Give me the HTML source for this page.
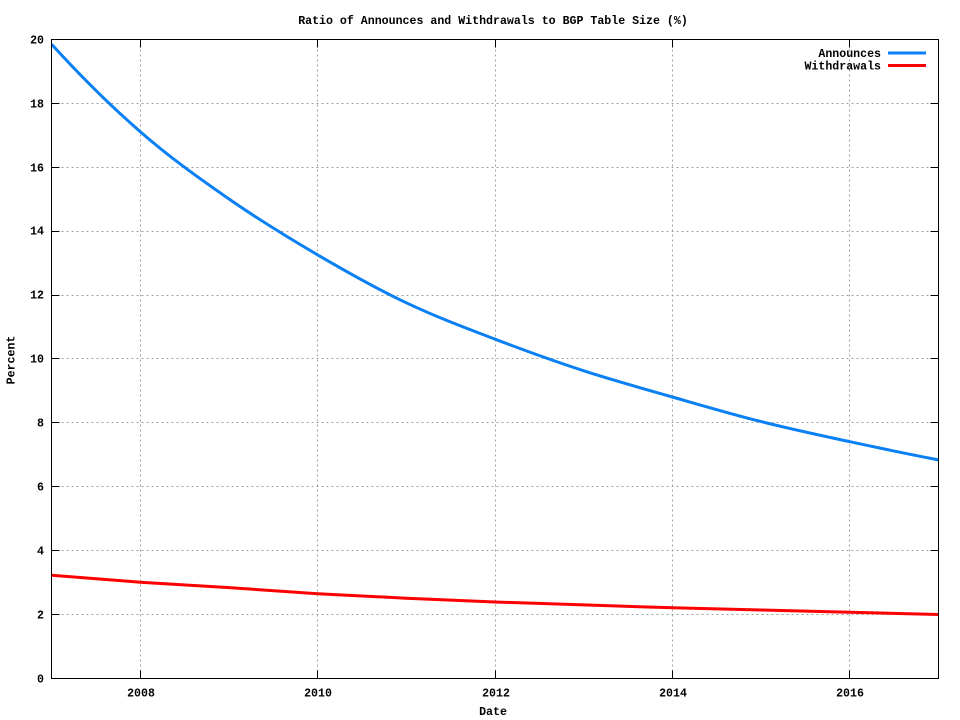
<!DOCTYPE html>
<html>
<head>
<meta charset="utf-8">
<style>
html,body{margin:0;padding:0;background:#fff;}
svg{display:block;}
text{font-family:"Liberation Mono","DejaVu Sans Mono",monospace;font-weight:bold;font-size:11.6px;fill:#000;}
</style>
</head>
<body>
<svg width="960" height="720" viewBox="0 0 960 720" xmlns="http://www.w3.org/2000/svg">
<rect width="960" height="720" fill="#fff"/>
<!-- grid -->
<g stroke="#a0a0a0" stroke-width="1" stroke-dasharray="2,3" fill="none">
<line x1="51.5" y1="614.5" x2="938.5" y2="614.5"/>
<line x1="51.5" y1="550.5" x2="938.5" y2="550.5"/>
<line x1="51.5" y1="486.5" x2="938.5" y2="486.5"/>
<line x1="51.5" y1="422.5" x2="938.5" y2="422.5"/>
<line x1="51.5" y1="358.5" x2="938.5" y2="358.5"/>
<line x1="51.5" y1="295.5" x2="938.5" y2="295.5"/>
<line x1="51.5" y1="231.5" x2="938.5" y2="231.5"/>
<line x1="51.5" y1="167.5" x2="938.5" y2="167.5"/>
<line x1="51.5" y1="103.5" x2="938.5" y2="103.5"/>
<line x1="140.5" y1="39.5" x2="140.5" y2="678.5"/>
<line x1="317.5" y1="39.5" x2="317.5" y2="678.5"/>
<line x1="495.5" y1="39.5" x2="495.5" y2="678.5"/>
<line x1="672.5" y1="39.5" x2="672.5" y2="678.5"/>
<line x1="849.5" y1="39.5" x2="849.5" y2="678.5"/>
</g>
<!-- ticks -->
<g stroke="#000" stroke-width="1">
<path d="M51.5,614.5h8M51.5,550.5h8M51.5,486.5h8M51.5,422.5h8M51.5,358.5h8M51.5,295.5h8M51.5,231.5h8M51.5,167.5h8M51.5,103.5h8"/>
<path d="M938.5,614.5h-8M938.5,550.5h-8M938.5,486.5h-8M938.5,422.5h-8M938.5,358.5h-8M938.5,295.5h-8M938.5,231.5h-8M938.5,167.5h-8M938.5,103.5h-8"/>
<path d="M140.5,678.5v-8M317.5,678.5v-8M495.5,678.5v-8M672.5,678.5v-8M849.5,678.5v-8"/>
<path d="M140.5,39.5v8M317.5,39.5v8M495.5,39.5v8M672.5,39.5v8M849.5,39.5v8"/>
</g>
<!-- series -->
<path d="M51.6,44.2 C81.2,76.7 110.7,105.9 140.3,131.7 C169.9,157.5 199.4,178.5 229.0,199.0 C258.6,219.5 288.1,237.6 317.7,254.9 C347.3,272.2 376.8,288.8 406.4,302.8 C436.0,316.9 465.5,327.9 495.1,339.2 C524.7,350.5 554.2,361.2 583.8,370.8 C613.4,380.4 642.9,388.5 672.5,397.0 C702.1,405.5 731.6,414.2 761.2,421.6 C790.8,429.1 820.3,435.3 849.9,441.7 C879.5,448.1 909.0,454.2 938.4,459.9" fill="none" stroke="#0a80f5" stroke-width="3"/>
<polyline points="51.6,575.2 140.3,582.2 229.0,587.6 317.7,593.7 406.4,598.2 495.1,602.0 583.8,604.9 672.5,607.8 761.2,610.0 849.9,612.2 938.4,614.5" fill="none" stroke="#ff0000" stroke-width="3"/>
<!-- border -->
<rect x="51.5" y="39.5" width="887" height="639" fill="none" stroke="#000" stroke-width="1"/>
<!-- y tick labels -->
<g text-anchor="end" dominant-baseline="central">
<text x="44" y="680">0</text>
<text x="44" y="616">2</text>
<text x="44" y="552">4</text>
<text x="44" y="488">6</text>
<text x="44" y="424">8</text>
<text x="44" y="360">10</text>
<text x="44" y="296">12</text>
<text x="44" y="232">14</text>
<text x="44" y="169">16</text>
<text x="44" y="105">18</text>
<text x="44" y="41">20</text>
</g>
<!-- x tick labels -->
<g text-anchor="middle" dominant-baseline="central">
<text x="141" y="694">2008</text>
<text x="318" y="694">2010</text>
<text x="496" y="694">2012</text>
<text x="673" y="694">2014</text>
<text x="850" y="694">2016</text>
<text x="493" y="712.5">Date</text>
<text x="493" y="21.5">Ratio of Announces and Withdrawals to BGP Table Size (%)</text>
<text x="12" y="360" transform="rotate(-90 12 360)">Percent</text>
</g>
<!-- legend -->
<g text-anchor="end" dominant-baseline="central">
<text x="881" y="54.5">Announces</text>
<text x="881" y="67">Withdrawals</text>
</g>
<line x1="888" y1="53" x2="926" y2="53" stroke="#0a80f5" stroke-width="3"/>
<line x1="888" y1="65.5" x2="926" y2="65.5" stroke="#ff0000" stroke-width="3"/>
</svg>
</body>
</html>
